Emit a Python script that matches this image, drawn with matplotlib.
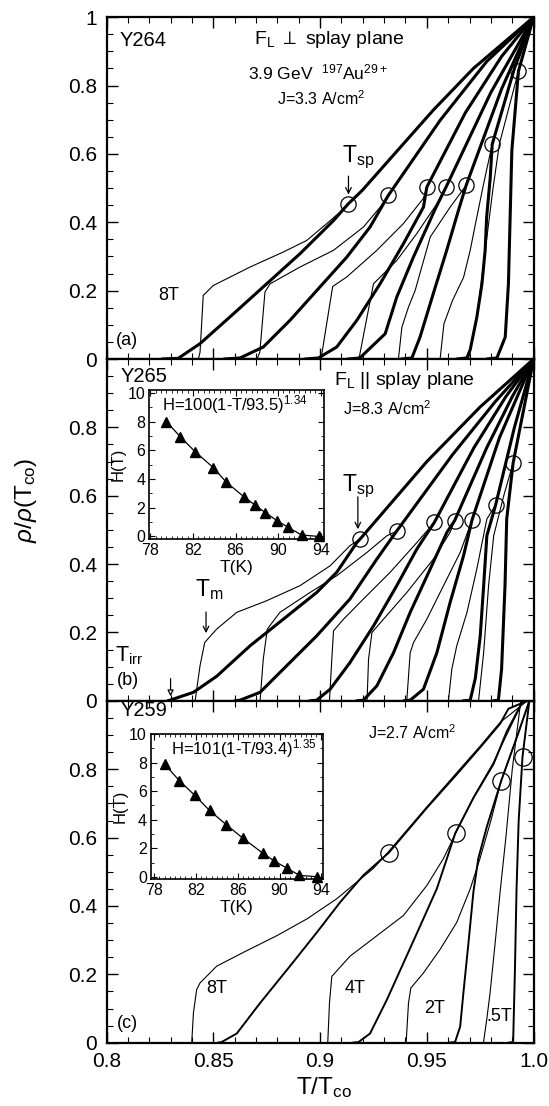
import matplotlib
matplotlib.use('Agg')
import matplotlib.pyplot as plt
from matplotlib.ticker import MultipleLocator, FuncFormatter

plt.rcParams['font.family'] = ['Liberation Sans', 'DejaVu Sans']
plt.rcParams['mathtext.fontset'] = 'custom'
plt.rcParams['mathtext.rm'] = 'Liberation Sans'
plt.rcParams['mathtext.it'] = 'Liberation Sans:italic'
plt.rcParams['mathtext.bf'] = 'Liberation Sans:bold'

# ---- panel (a): Y264, F_L perpendicular to splay plane ----
a_thick_x = [
    [0.826, 0.8336, 0.8438, 0.8594, 0.875, 0.8906, 0.9063, 0.9133, 0.9197, 0.953, 0.9718, 1.0],
    [0.855, 0.8625, 0.8734, 0.8859, 0.8984, 0.9125, 0.9234, 0.932, 0.9562, 0.978, 1.0],
    [0.893, 0.8992, 0.9078, 0.9172, 0.9281, 0.939, 0.9484, 0.95, 0.968, 0.985, 1.0],
    [0.913, 0.9186, 0.9305, 0.9359, 0.9437, 0.954, 0.959, 0.98, 1.0],
    [0.938, 0.943, 0.9468, 0.953, 0.9593, 0.9648, 0.9684, 0.985, 1.0],
    [0.964, 0.9687, 0.9703, 0.9734, 0.9758, 0.9773, 0.978, 0.9797, 0.9806, 0.991, 1.0],
    [0.978, 0.9828, 0.9867, 0.9882, 0.989, 0.9898, 0.9929, 1.0],
]
a_thick_y = [
    [0, 0.002, 0.045, 0.132, 0.22, 0.308, 0.405, 0.4545, 0.493, 0.728, 0.85, 1.0],
    [0, 0.003, 0.035, 0.113, 0.2, 0.298, 0.386, 0.479, 0.698, 0.87, 1.0],
    [0, 0.003, 0.035, 0.113, 0.22, 0.337, 0.444, 0.503, 0.72, 0.885, 1.0],
    [0, 0.003, 0.074, 0.181, 0.298, 0.44, 0.503, 0.78, 1.0],
    [0, 0.003, 0.064, 0.191, 0.318, 0.435, 0.508, 0.79, 1.0],
    [0, 0.003, 0.027, 0.122, 0.22, 0.318, 0.415, 0.532, 0.628, 0.85, 1.0],
    [0, 0.003, 0.064, 0.22, 0.415, 0.61, 0.842, 1.0],
]
a_thin_x = [
    [0.8430, 0.8438, 0.8453, 0.850, 0.8672, 0.8828, 0.8938, 0.9031, 0.9094, 0.9133],
    [0.8705, 0.8718, 0.8742, 0.8766, 0.8906, 0.9063, 0.9203, 0.9281, 0.932],
    [0.900, 0.9007, 0.9059, 0.9125, 0.9266, 0.939, 0.9484, 0.95],
    [0.9178, 0.9185, 0.925, 0.9359, 0.9453, 0.9547, 0.959],
    [0.9367, 0.9383, 0.9414, 0.9445, 0.9516, 0.961, 0.9684],
    [0.9562, 0.958, 0.962, 0.9672, 0.9703, 0.9734, 0.9766, 0.9806],
    [0.9695, 0.9705, 0.974, 0.978, 0.981, 0.984, 0.9929],
]
a_thin_y = [
    [0, 0.02, 0.186, 0.215, 0.269, 0.313, 0.347, 0.396, 0.43, 0.4545],
    [0, 0.02, 0.196, 0.22, 0.269, 0.318, 0.386, 0.444, 0.479],
    [0, 0.01, 0.212, 0.24, 0.318, 0.396, 0.47, 0.503],
    [0, 0.01, 0.22, 0.288, 0.367, 0.454, 0.503],
    [0, 0.093, 0.152, 0.2, 0.357, 0.445, 0.508],
    [0, 0.103, 0.171, 0.239, 0.318, 0.415, 0.513, 0.628],
    [0, 0.03, 0.15, 0.35, 0.5, 0.63, 0.842],
]
a_circ_x = [0.9133, 0.932, 0.95, 0.959, 0.9684, 0.9806, 0.9929]
a_circ_y = [0.4545, 0.479, 0.503, 0.503, 0.508, 0.628, 0.842]

# ---- panel (b): Y265, F_L parallel to splay plane ----
b_thick_x = [
    [0.8285, 0.8297, 0.8407, 0.8516, 0.8672, 0.8828, 0.8984, 0.9078, 0.9172, 0.9187, 0.95, 0.975, 1.0],
    [0.860, 0.8625, 0.8719, 0.8828, 0.8984, 0.914, 0.9266, 0.9358, 0.962, 0.982, 1.0],
    [0.895, 0.8984, 0.9047, 0.914, 0.925, 0.9359, 0.9453, 0.9535, 0.972, 0.987, 1.0],
    [0.917, 0.9203, 0.9266, 0.9344, 0.9422, 0.9516, 0.9594, 0.963, 0.978, 0.99, 1.0],
    [0.939, 0.9422, 0.9484, 0.9547, 0.9609, 0.9672, 0.9712, 0.984, 1.0],
    [0.967, 0.9703, 0.9727, 0.975, 0.9766, 0.9781, 0.9822, 0.991, 1.0],
    [0.981, 0.9835, 0.985, 0.9866, 0.9874, 0.9904, 1.0],
]
b_thick_y = [
    [0, 0.002, 0.025, 0.072, 0.161, 0.239, 0.317, 0.376, 0.463, 0.473, 0.70, 0.86, 1.0],
    [0, 0.002, 0.025, 0.093, 0.19, 0.298, 0.415, 0.496, 0.72, 0.875, 1.0],
    [0, 0.002, 0.034, 0.112, 0.219, 0.337, 0.444, 0.522, 0.74, 0.89, 1.0],
    [0, 0.002, 0.044, 0.141, 0.259, 0.386, 0.493, 0.527, 0.74, 0.89, 1.0],
    [0, 0.002, 0.034, 0.141, 0.288, 0.425, 0.53, 0.77, 1.0],
    [0, 0.002, 0.066, 0.19, 0.337, 0.483, 0.573, 0.8, 1.0],
    [0, 0.002, 0.093, 0.337, 0.532, 0.696, 1.0],
]
b_thin_x = [
    [0.8415, 0.8438, 0.846, 0.8516, 0.861, 0.875, 0.8906, 0.9047, 0.914, 0.9187],
    [0.8719, 0.8734, 0.8753, 0.8812, 0.8953, 0.9078, 0.9219, 0.9313, 0.9358],
    [0.9044, 0.9055, 0.9063, 0.911, 0.9203, 0.9328, 0.9453, 0.9535],
    [0.922, 0.9227, 0.9243, 0.9297, 0.9406, 0.9531, 0.9609, 0.963],
    [0.9406, 0.9422, 0.9438, 0.95, 0.9578, 0.9656, 0.9712],
    [0.9601, 0.9617, 0.964, 0.9688, 0.9734, 0.9781, 0.9822],
    [0.9742, 0.9766, 0.9789, 0.9813, 0.986, 0.9904],
]
b_thin_y = [
    [0, 0.103, 0.171, 0.21, 0.259, 0.293, 0.337, 0.395, 0.454, 0.473],
    [0, 0.122, 0.21, 0.259, 0.317, 0.366, 0.434, 0.483, 0.496],
    [0, 0.122, 0.205, 0.239, 0.298, 0.376, 0.463, 0.522],
    [0, 0.122, 0.2, 0.239, 0.317, 0.415, 0.493, 0.527],
    [0, 0.141, 0.171, 0.239, 0.337, 0.434, 0.53],
    [0, 0.093, 0.161, 0.259, 0.386, 0.532, 0.573],
    [0, 0.141, 0.337, 0.483, 0.6, 0.696],
]
b_circ_x = [0.9187, 0.9358, 0.9535, 0.963, 0.9712, 0.9822, 0.9904]
b_circ_y = [0.473, 0.496, 0.522, 0.527, 0.53, 0.573, 0.696]

# ---- panel (c): Y259 ----
c_thick_x = [
    [0.852, 0.8539, 0.861, 0.8719, 0.8859, 0.8984, 0.9094, 0.9203, 0.9322, 0.95, 0.964, 0.975, 0.9843, 0.9882, 0.997],
    [0.915, 0.918, 0.9234, 0.9313, 0.9391, 0.9469, 0.9547, 0.9594, 0.9633, 0.9718, 0.9812, 0.9874, 0.995],
    [0.960, 0.9632, 0.9656, 0.9671, 0.9695, 0.9718, 0.9741, 0.978, 0.9848, 0.9925, 0.998],
    [0.988, 0.9904, 0.9912, 0.992, 0.993, 0.9948, 0.998],
]
c_thick_y = [
    [0, 0.002, 0.027, 0.116, 0.224, 0.322, 0.411, 0.49, 0.556, 0.687, 0.785, 0.864, 0.933, 0.977, 1.0],
    [0, 0.002, 0.027, 0.126, 0.234, 0.342, 0.451, 0.539, 0.613, 0.716, 0.815, 0.91, 1.0],
    [0, 0.002, 0.047, 0.145, 0.293, 0.441, 0.539, 0.63, 0.766, 0.9, 1.0],
    [0, 0.002, 0.2, 0.45, 0.65, 0.837, 1.0],
]
c_thin_x = [
    [0.8399, 0.8407, 0.8422, 0.8438, 0.8516, 0.864, 0.8797, 0.8938, 0.9078, 0.9172, 0.925, 0.9322, 0.95, 0.964, 0.975, 0.9843, 0.997],
    [0.9036, 0.9044, 0.9055, 0.914, 0.9266, 0.939, 0.95, 0.9578, 0.9635, 0.972, 0.9812, 0.995],
    [0.9403, 0.9414, 0.9425, 0.9484, 0.9562, 0.964, 0.9703, 0.9749, 0.98, 0.9848, 0.9925, 0.998],
    [0.9765, 0.978, 0.9796, 0.982, 0.9843, 0.987, 0.99, 0.994],
]
c_thin_y = [
    [0, 0.087, 0.155, 0.175, 0.224, 0.264, 0.313, 0.362, 0.421, 0.47, 0.51, 0.56, 0.69, 0.79, 0.868, 0.937, 1.0],
    [0, 0.116, 0.194, 0.253, 0.313, 0.372, 0.46, 0.539, 0.613, 0.72, 0.82, 1.0],
    [0, 0.116, 0.16, 0.204, 0.273, 0.352, 0.45, 0.539, 0.65, 0.766, 0.9, 1.0],
    [0, 0.066, 0.145, 0.293, 0.441, 0.6, 0.8, 1.0],
]
c_circ_x = [0.9322, 0.9635, 0.9848, 0.9948]
c_circ_y = [0.556, 0.613, 0.766, 0.837]

# ---- insets: H(T) lines ----
ins_b_T = [79.5, 80.8, 82.2, 83.9, 85.1, 86.8, 87.8, 88.8, 89.9, 90.9, 92.2, 93.8]
ins_b_H = [8.0, 6.95, 5.9, 4.8, 3.8, 2.75, 2.2, 1.65, 1.1, 0.65, 0.1, 0.0]
ins_c_T = [79.0, 80.4, 81.9, 83.3, 84.9, 86.5, 88.4, 89.5, 90.7, 91.9, 93.6]
ins_c_H = [7.9, 6.75, 5.7, 4.65, 3.65, 2.7, 1.65, 1.1, 0.6, 0.1, 0.0]

x_ticks = [0.8, 0.85, 0.9, 0.95, 1.0]
x_tick_labels = ['0.8', '0.85', '0.9', '0.95', '1.0']


def yfmt_top(v, p):
    if abs(v) < 1e-9:
        return '0'
    if abs(v - 1) < 1e-9:
        return '1'
    return '%.1f' % v


def yfmt_low(v, p):
    if abs(v - 1) < 1e-9:
        return ''
    return yfmt_top(v, p)


def style_main(ax, yfmt, show_x):
    ax.set_xlim(0.8, 1.0)
    ax.set_ylim(0, 1)
    ax.xaxis.set_major_locator(MultipleLocator(0.05))
    ax.xaxis.set_minor_locator(MultipleLocator(0.01))
    ax.yaxis.set_major_locator(MultipleLocator(0.2))
    ax.yaxis.set_minor_locator(MultipleLocator(0.05))
    ax.yaxis.set_major_formatter(FuncFormatter(yfmt))
    ax.tick_params(which='both', direction='in', top=True, right=True, labelsize=15)
    ax.tick_params(which='major', length=8, width=1.0, pad=7)
    ax.tick_params(which='minor', length=4, width=0.8)
    if show_x:
        ax.set_xticks(x_ticks)
        ax.set_xticklabels(x_tick_labels)
    else:
        ax.tick_params(labelbottom=False)
    for s in ax.spines.values():
        s.set_linewidth(1.6)


def draw_curves(ax, tx, ty, nx, ny, lw_thick, lw_thin):
    for x, y in zip(tx, ty):
        ax.plot(x, y, color='k', lw=lw_thick, solid_joinstyle='round', solid_capstyle='round')
    for x, y in zip(nx, ny):
        ax.plot(x, y, color='k', lw=lw_thin, solid_joinstyle='round')


def style_inset(ax, xlim, ylim):
    ax.set_xlim(*xlim)
    ax.set_ylim(*ylim)
    ax.set_xticks([78, 82, 86, 90, 94])
    ax.set_yticks([0, 2, 4, 6, 8, 10])
    ax.xaxis.set_minor_locator(MultipleLocator(0.5))
    ax.yaxis.set_minor_locator(MultipleLocator(1))
    ax.tick_params(which='both', direction='in', top=True, right=True, labelsize=11.5, pad=3)
    ax.tick_params(which='major', length=4, width=0.8)
    ax.tick_params(which='minor', length=2, width=0.6)
    for s in ax.spines.values():
        s.set_linewidth(1.2)
    ax.set_xlabel('T(K)', fontsize=12.5, labelpad=1)
    ax.set_ylabel('H(T)', fontsize=12, labelpad=1)


fig = plt.figure(figsize=(5.49, 11.06), dpi=100)
left, width, h = 0.194, 0.778, 0.3091
ax_a = fig.add_axes([left, 0.0572 + 2 * h, width, h])
ax_b = fig.add_axes([left, 0.0572 + h, width, h])
ax_c = fig.add_axes([left, 0.0572, width, h])

circ = dict(ls='none', marker='o', mfc='none', mec='k', mew=0.9, clip_on=False)

# panel a
draw_curves(ax_a, a_thick_x, a_thick_y, a_thin_x, a_thin_y, 2.2, 0.8)
ax_a.plot(a_circ_x, a_circ_y, ms=11, **circ)
style_main(ax_a, yfmt_top, False)
ax_a.text(0.8059, 0.933, 'Y264', fontsize=14.5, va='center')
ax_a.text(0.9042, 0.936, r'F$_\mathrm{L}$ $\perp$ splay plane', fontsize=14, ha='center', va='center')
ax_a.text(0.899, 0.839, r'3.9 GeV  $^{197}$Au$^{29+}$', fontsize=12.5, ha='center', va='center')
ax_a.text(0.9007, 0.763, r'J=3.3 A/cm$^2$', fontsize=11.5, ha='center', va='center')
ax_a.text(0.9178, 0.59, r'T$_\mathrm{sp}$', fontsize=16.5, ha='center', va='center')
ax_a.annotate('', xy=(0.9133, 0.473), xytext=(0.9133, 0.543),
              arrowprops=dict(arrowstyle='->', lw=0.9, color='k'))
ax_a.text(0.829, 0.186, '8T', fontsize=13, ha='center', va='center')
ax_a.text(0.8096, 0.054, '(a)', fontsize=13, ha='center', va='center')

# panel b
draw_curves(ax_b, b_thick_x, b_thick_y, b_thin_x, b_thin_y, 2.2, 0.8)
ax_b.plot(b_circ_x, b_circ_y, ms=11, **circ)
style_main(ax_b, yfmt_low, False)
ax_b.text(0.8068, 0.95, 'Y265', fontsize=14.5, va='center')
ax_b.text(0.9393, 0.9365, r'F$_\mathrm{L}$ || splay plane', fontsize=14, ha='center', va='center')
ax_b.text(0.9314, 0.854, r'J=8.3 A/cm$^2$', fontsize=11.5, ha='center', va='center')
ax_b.text(0.918, 0.629, r'T$_\mathrm{sp}$', fontsize=16.5, ha='center', va='center')
ax_b.annotate('', xy=(0.9177, 0.494), xytext=(0.9177, 0.605),
              arrowprops=dict(arrowstyle='->', lw=0.9, color='k'))
ax_b.text(0.848, 0.327, r'T$_\mathrm{m}$', fontsize=16.5, ha='center', va='center')
ax_b.annotate('', xy=(0.8466, 0.19), xytext=(0.8466, 0.268),
              arrowprops=dict(arrowstyle='->', lw=0.9, color='k'))
ax_b.text(0.8108, 0.132, r'T$_\mathrm{irr}$', fontsize=15.5, ha='center', va='center')
ax_b.annotate('', xy=(0.83, 0.005), xytext=(0.83, 0.073),
              arrowprops=dict(arrowstyle='-|>', lw=0.9, color='k', fc='white',
                              mutation_scale=9))
ax_b.text(0.81, 0.0585, '(b)', fontsize=13, ha='center', va='center')

# panel c
draw_curves(ax_c, c_thick_x, c_thick_y, c_thin_x, c_thin_y, 1.4, 0.8)
ax_c.plot(c_circ_x, c_circ_y, ms=12.5, **circ)
style_main(ax_c, yfmt_low, True)
ax_c.text(0.8068, 0.973, 'Y259', fontsize=14.5, va='center')
ax_c.text(0.9431, 0.908, r'J=2.7 A/cm$^2$', fontsize=11.5, ha='center', va='center')
ax_c.text(0.8518, 0.158, '8T', fontsize=13, ha='center', va='center')
ax_c.text(0.9166, 0.159, '4T', fontsize=13, ha='center', va='center')
ax_c.text(0.9534, 0.10, '2T', fontsize=13, ha='center', va='center')
ax_c.text(0.9838, 0.077, '.5T', fontsize=13, ha='center', va='center')
ax_c.text(0.8096, 0.057, '(c)', fontsize=13, ha='center', va='center')

# insets
ins_b = fig.add_axes([0.272, 0.5124, 0.318, 0.135])
ins_b.plot(ins_b_T, ins_b_H, color='k', lw=0.9, marker='^', ms=7.5, mfc='k', clip_on=False)
style_inset(ins_b, (77.9, 94.3), (-0.2, 10.2))
ins_b.text(0.49, 0.9, r'H=100(1-T/93.5)$^{1.34}$', transform=ins_b.transAxes,
           fontsize=12, ha='center', va='center')

ins_c = fig.add_axes([0.275, 0.2052, 0.313, 0.131])
ins_c.plot(ins_c_T, ins_c_H, color='k', lw=0.9, marker='^', ms=7.5, mfc='k', clip_on=False)
style_inset(ins_c, (77.7, 94.13), (-0.16, 9.95))
ins_c.text(0.54, 0.9, r'H=101(1-T/93.4)$^{1.35}$', transform=ins_c.transAxes,
           fontsize=12, ha='center', va='center')

fig.text(0.047, 0.548, r'$\rho$/$\rho$(T$_\mathrm{co}$)', rotation=90, fontsize=17.5,
         ha='center', va='center')
fig.text(0.59, 0.011, r'T/T$_\mathrm{co}$', fontsize=17.5, ha='center', va='baseline')

fig.savefig('out.png', dpi=100)
